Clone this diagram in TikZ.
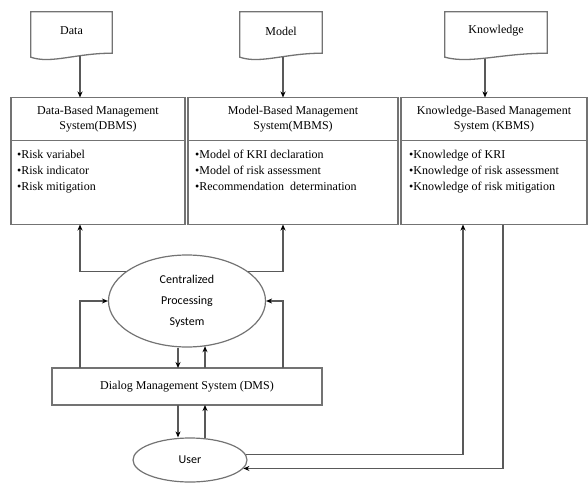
\documentclass[tikz,border=0pt]{standalone}
\usepackage{fontspec}
\setmainfont{Liberation Serif}
\newfontfamily\cpsfont{Carlito}
\usetikzlibrary{shapes.geometric, arrows.meta, positioning, calc}
\definecolor{boxgray}{gray}{0.45}
\definecolor{linegray}{gray}{0.35}
\tikzstyle{arrow} = [draw=linegray, line width=1.1pt, ->, >={Stealth[length=6pt, width=5pt, black]}]
\tikzstyle{doc} = [minimum width=81pt, minimum height=38pt, inner sep=0pt, font=\fontsize{12}{15}\selectfont]
\tikzstyle{title} = [draw=boxgray, line width=1.5pt, minimum height=43pt, inner sep=0pt, outer sep=0pt, align=center, font=\fontsize{12}{15}\selectfont]
\tikzstyle{itembox} = [draw=boxgray, line width=1.5pt, minimum height=84pt, inner sep=0pt, outer sep=0pt]
\tikzstyle{items} = [inner sep=0pt, align=left, font=\fontsize{12}{16}\selectfont]
\tikzstyle{oval} = [ellipse, draw=boxgray, line width=1.2pt, inner sep=0pt, align=center]

\begin{document}
\begin{tikzpicture}[x=1pt, y=-1pt]
                \useasboundingbox (0,0) rectangle (588,486);

                % sources
                \node (data) [doc] at (71.5,31) {Data};
                \node (model) [doc, minimum width=82pt] at (281,31) {Model};
                \node (knowledge) [doc, minimum width=102pt] at (496,31) {Knowledge};
                \foreach \n in {data, model, knowledge}
                    \draw [draw=boxgray, line width=1.3pt] (\n.north west) -- (\n.north east) -- ([yshift=-3pt]\n.south east)
                        .. controls ($(\n.south east)!0.45!(\n.south west)+(0,3)$) and ($(\n.south east)!0.75!(\n.south west)+(0,14)$) .. ([yshift=-7pt]\n.south west) -- cycle;

                % management systems
                \node (dbms) [title, minimum width=174pt] at (98,119) {Data-Based Management\\System(DBMS)};
                \node (mbms) [title, minimum width=210pt, right=3pt of dbms] {Model-Based Management\\System(MBMS)};
                \node (kbms) [title, minimum width=186pt, right=3pt of mbms] {Knowledge-Based Management\\System (KBMS)};
                \node (dbmsbox) [itembox, minimum width=174pt, below=0pt of dbms] {};
                \node (mbmsbox) [itembox, minimum width=210pt, below=0pt of mbms] {};
                \node (kbmsbox) [itembox, minimum width=186pt, below=0pt of kbms] {};
                \node (dbmsitems) [items, below right=9pt and 6pt of dbmsbox.north west] {•Risk variabel\\•Risk indicator\\•Risk mitigation};
                \node (mbmsitems) [items, below right=9pt and 7pt of mbmsbox.north west] {•Model of KRI declaration\\•Model of risk assessment\\•Recommendation\ \ determination};
                \node (kbmsitems) [items, below right=9pt and 8pt of kbmsbox.north west] {•Knowledge of KRI\\•Knowledge of risk assessment\\•Knowledge of risk mitigation};

                % processing, dialog, user
                \node (cps) [oval, minimum width=157pt, minimum height=92pt, font=\cpsfont\fontsize{12}{21}\selectfont] at (187,301) {Centralized\\Processing\\System};
                \node (dms) [title, minimum width=270pt, minimum height=37pt] at (187,386.5) {Dialog Management System (DMS)};
                \node (user) [oval, minimum width=114pt, minimum height=44pt, font=\cpsfont\fontsize{12}{14}\selectfont] at (190,460) {User};

                \draw [arrow] ([xshift=8.5pt,yshift=-6pt]data.south) -- ([xshift=8.5pt]data.south |- dbms.north);
                \draw [arrow] ([xshift=2pt,yshift=-7pt]model.south) -- ([xshift=2pt]model.south |- mbms.north);
                \draw [arrow] ([xshift=-11pt,yshift=-9pt]knowledge.south) -- ([xshift=-11pt]knowledge.south |- kbms.north);

                \draw [arrow] (cps.154) -| ([xshift=-18pt]dbmsbox.south);
                \draw [arrow] (cps.26) -| ([xshift=-10pt]mbmsbox.south);
                \draw [arrow] ([xshift=-107pt]dms.north) |- (cps.west);
                \draw [arrow] ([xshift=96pt]dms.north) |- (cps.east);
                \draw [arrow] ([xshift=-9pt]cps.south) -- ([xshift=-9pt]cps.south |- dms.north);
                \draw [arrow] ([xshift=18pt]dms.north) -- ([xshift=18pt,yshift=1.4pt]cps.south);
                \draw [arrow] ([xshift=-9pt]dms.south) -- ([xshift=-9pt]dms.south |- user.north);
                \draw [arrow] ([xshift=18pt,yshift=-0.8pt]dms.south |- user.north) -- ([xshift=18pt]dms.south);
                \draw [arrow] (user.6) -| ([xshift=-31pt]kbmsbox.south);
                \draw [arrow] ([xshift=9pt]kbmsbox.south) |- (user.-9);
            \end{tikzpicture}
\end{document}
